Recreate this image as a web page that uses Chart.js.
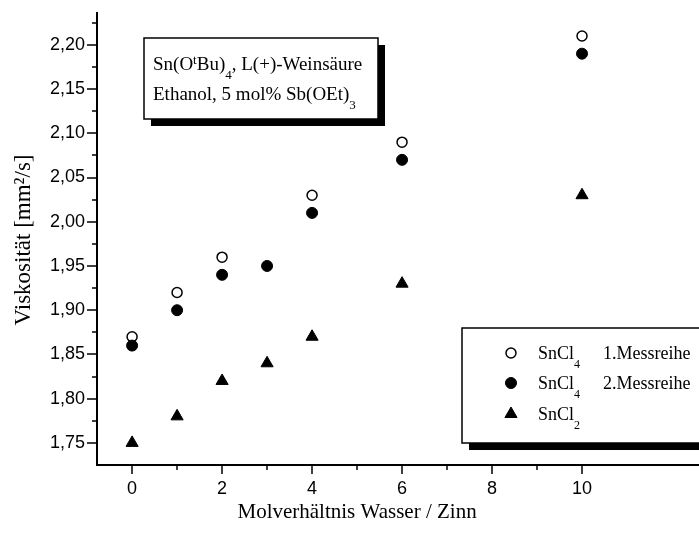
<!DOCTYPE html>
<html>
<head>
<meta charset="utf-8">
<script src="https://cdn.jsdelivr.net/npm/chart.js@4/dist/chart.umd.min.js"></script>
<style>
  html, body { margin: 0; padding: 0; background: #fff; }
  #wrap { width: 699px; height: 533px; }
</style>
</head>
<body>
<div id="wrap"><canvas id="chart" width="699" height="533"></canvas></div>
<script>
// Molverhältnis Wasser / Zinn -> Viskosität [mm²/s]
const molRatio1 = [0, 1, 2, 4, 6, 10]
const viscosity1 = [1.87, 1.92, 1.96, 2.03, 2.09, 2.21]
const molRatio2 = [0, 1, 2, 3, 4, 6, 10]
const viscosity2 = [1.86, 1.90, 1.94, 1.95, 2.01, 2.07, 2.19]
const molRatio3 = [0, 1, 2, 3, 4, 6, 10]
const viscosity3 = [1.75, 1.78, 1.82, 1.84, 1.87, 1.93, 2.03]

const xTicks = [0, 2, 4, 6, 8, 10]
const xMinorTicks = [1, 3, 5, 7, 9]
const yTicks = [1.75, 1.80, 1.85, 1.90, 1.95, 2.00, 2.05, 2.10, 2.15, 2.20]
const yMinorTicks = [1.775, 1.825, 1.875, 1.925, 1.975, 2.025, 2.075, 2.125, 2.175, 2.225]

const legendNames = [['SnCl', '4', '1.Messreihe'], ['SnCl', '4', '2.Messreihe'], ['SnCl', '2', '']]
const noteLine1 = [['Sn(O'], ['t', 'sup'], ['Bu)'], ['4', 'sub'], [', L(+)-Weinsäure']]
const noteLine2 = [['Ethanol, 5 mol% Sb(OEt)'], ['3', 'sub']]

const serif = '"Liberation Serif", "Times New Roman", serif'
const sans = '"Liberation Sans", Arial, sans-serif'

const toPoints = (xs, ys) => xs.map((x, i) => ({ x: x, y: ys[i] }))

function drawRich (ctx, parts, x, y, size) {
  parts.forEach(([text, kind]) => {
    let dy = 0
    let fs = size
    if (kind === 'sub') { fs = Math.round(size * 0.68); dy = 9 }
    if (kind === 'sup') { fs = Math.round(size * 0.68); dy = -6 }
    ctx.font = fs + 'px ' + serif
    ctx.fillText(text, x, y + dy)
    x += ctx.measureText(text).width
  })
  return x
}

function shadowBox (ctx, x, y, w, h, off) {
  ctx.fillStyle = '#000'
  ctx.fillRect(x + off, y + off, w, h)
  ctx.fillStyle = '#fff'
  ctx.fillRect(x, y, w, h)
  ctx.strokeStyle = '#000'
  ctx.lineWidth = 1.5
  ctx.strokeRect(x, y, w, h)
}

const decorations = {
  id: 'decorations',
  afterDraw (chart) {
    const ctx = chart.ctx
    const xs = chart.scales.x
    const ys = chart.scales.y
    const area = chart.chartArea
    ctx.save()

    // tick marks (outside, major longer than minor)
    ctx.strokeStyle = '#000'
    ctx.lineWidth = 1.5
    ctx.beginPath()
    xTicks.forEach(v => { const p = Math.round(xs.getPixelForValue(v)); ctx.moveTo(p, area.bottom); ctx.lineTo(p, area.bottom + 9) })
    xMinorTicks.forEach(v => { const p = Math.round(xs.getPixelForValue(v)); ctx.moveTo(p, area.bottom); ctx.lineTo(p, area.bottom + 5) })
    yTicks.forEach(v => { const p = Math.round(ys.getPixelForValue(v)); ctx.moveTo(area.left, p); ctx.lineTo(area.left - 10, p) })
    yMinorTicks.forEach(v => { const p = Math.round(ys.getPixelForValue(v)); ctx.moveTo(area.left, p); ctx.lineTo(area.left - 5, p) })
    ctx.stroke()

    // axis titles
    ctx.fillStyle = '#000'
    ctx.textBaseline = 'alphabetic'
    ctx.textAlign = 'center'
    ctx.font = '21px ' + serif
    ctx.fillText('Molverhältnis Wasser / Zinn', xs.getPixelForValue(5), 518)
    ctx.save()
    ctx.translate(30, 240)
    ctx.rotate(-Math.PI / 2)
    ctx.font = '23px ' + serif
    ctx.fillText('Viskosität [mm²/s]', 0, 0)
    ctx.restore()

    // annotation box
    ctx.textAlign = 'left'
    shadowBox(ctx, 144, 38, 234, 81, 7)
    ctx.fillStyle = '#000'
    drawRich(ctx, noteLine1, 153, 70, 19)
    drawRich(ctx, noteLine2, 153, 100, 19)

    // legend box
    shadowBox(ctx, 462, 328, 260, 115, 7)
    const rows = [353, 383, 414]
    chart.data.datasets.forEach((ds, i) => {
      const y = rows[i]
      const style = {
        pointStyle: ds.pointStyle,
        radius: ds.pointRadius,
        borderWidth: ds.borderWidth,
        rotation: 0
      }
      ctx.fillStyle = ds.backgroundColor
      ctx.strokeStyle = ds.borderColor
      ctx.lineWidth = ds.borderWidth
      Chart.helpers.drawPoint(ctx, style, 511, y)
      ctx.fillStyle = '#000'
      const [name, sub, rest] = legendNames[i]
      drawRich(ctx, [[name], [sub, 'sub']], 538, y + 6, 18)
      if (rest) {
        ctx.font = '18px ' + serif
        ctx.fillText(rest, 603, y + 6)
      }
    })

    ctx.restore()
  }
}

new Chart(document.getElementById('chart'), {
  type: 'scatter',
  data: {
    datasets: [
      {
        label: 'SnCl4 1.Messreihe',
        data: toPoints(molRatio1, viscosity1),
        pointStyle: 'circle',
        pointRadius: 5,
        backgroundColor: '#fff',
        borderColor: '#000',
        borderWidth: 1.5,
        order: 2
      },
      {
        label: 'SnCl4 2.Messreihe',
        data: toPoints(molRatio2, viscosity2),
        pointStyle: 'circle',
        pointRadius: 5.5,
        backgroundColor: '#000',
        borderColor: '#000',
        borderWidth: 1,
        order: 1
      },
      {
        label: 'SnCl2',
        data: toPoints(molRatio3, viscosity3),
        pointStyle: 'triangle',
        pointRadius: 7,
        backgroundColor: '#000',
        borderColor: '#000',
        borderWidth: 1,
        order: 0
      }
    ]
  },
  options: {
    responsive: false,
    animation: false,
    events: [],
    layout: { autoPadding: false, padding: { top: 13, right: 0, left: 0, bottom: 0 } },
    plugins: {
      legend: { display: false },
      tooltip: { enabled: false }
    },
    scales: {
      x: {
        type: 'linear',
        min: -0.78,
        max: 12.6,
        grid: { display: false },
        border: { display: true, color: '#000', width: 2 },
        afterBuildTicks: scale => { scale.ticks = xTicks.map(v => ({ value: v })) },
        afterFit: scale => {
          scale.height = 68
          scale.paddingLeft = 0
          scale.paddingRight = 0
        },
        ticks: {
          color: '#000',
          padding: 5,
          maxRotation: 0,
          autoSkip: false,
          font: { family: sans, size: 18 },
          callback: v => String(v)
        }
      },
      y: {
        type: 'linear',
        min: 1.725,
        max: 2.236,
        grid: { display: false },
        border: { display: true, color: '#000', width: 2 },
        afterBuildTicks: scale => { scale.ticks = yTicks.map(v => ({ value: v })) },
        afterFit: scale => {
          scale.width = 97
          scale.paddingTop = 0
          scale.paddingBottom = 0
        },
        ticks: {
          color: '#000',
          padding: 4,
          autoSkip: false,
          font: { family: sans, size: 18 },
          callback: v => v.toFixed(2).replace('.', ',')
        }
      }
    }
  },
  plugins: [decorations]
})
</script>
</body>
</html>
